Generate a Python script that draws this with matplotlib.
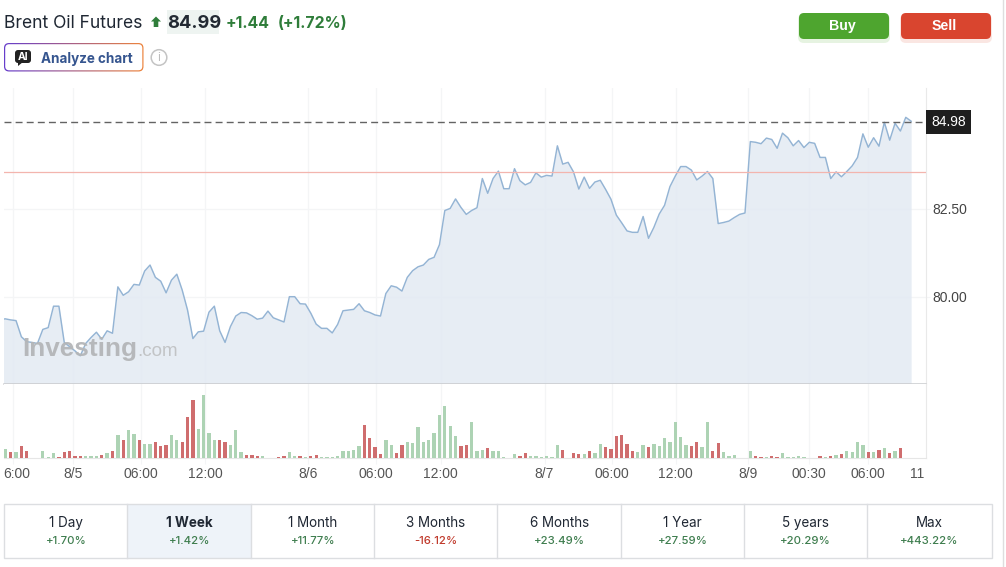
import numpy as np
import matplotlib
matplotlib.use("Agg")
import matplotlib.pyplot as plt
from matplotlib.patches import FancyBboxPatch, Rectangle, Circle, Polygon

# ---------- data ----------
prices = [79.35,
 79.37,79.34,79.32,78.86,78.72,78.70,78.67,79.07,79.12,79.73,79.73,78.70,78.58,78.46,78.32,78.67,
 78.84,78.99,78.79,79.03,78.96,80.28,80.04,80.14,80.35,80.33,80.73,80.90,80.55,80.44,80.11,80.47,
 80.64,80.19,79.62,78.81,79.00,79.02,79.56,79.73,79.03,78.70,79.15,79.45,79.55,79.54,79.46,79.36,
 79.39,79.59,79.40,79.34,79.28,80.00,80.00,79.80,79.79,79.53,79.22,79.10,79.10,78.97,
 79.21,79.60,79.62,79.64,79.80,79.60,79.55,79.48,79.45,80.09,80.31,80.27,80.16,80.55,80.74,80.85,
 80.90,81.06,81.12,81.48,82.45,82.51,82.78,82.54,82.34,82.45,82.53,83.36,82.94,83.36,83.57,83.07,
 83.07,83.64,83.30,83.18,83.25,83.52,83.40,83.45,83.43,84.29,83.77,83.82,83.55,83.06,83.40,83.08,
 83.26,83.31,83.05,82.77,82.32,82.10,81.87,81.83,81.83,82.28,81.66,81.97,82.35,82.60,83.13,
 83.43,83.70,83.70,83.60,83.32,83.43,83.56,83.36,82.08,82.11,82.15,82.25,82.34,82.38,84.41,84.39,
 84.35,84.51,84.47,84.22,84.65,84.52,84.29,84.44,84.24,84.39,84.36,83.96,83.96,83.36,83.55,83.41,
 83.56,83.72,83.96,84.63,84.25,84.52,84.28,84.96,84.45,84.93,84.71,85.10,84.99]

volumes = [27,19,18,36,22,0,0,22,3,15,3,19,22,6,6,6,6,6,9,15,22,69,53,83,72,53,42,42,49,36,39,69,53,49,
 123,174,87,188,76,53,54,49,39,83,19,9,9,6,6,1,1,3,6,18,6,6,3,6,9,3,2,2,5,
 22,22,25,36,99,59,33,12,55,39,15,39,49,45,93,49,53,76,129,157,96,66,36,39,107,22,25,29,22,22,2,0,
 12,6,15,5,5,3,5,3,39,25,1,15,12,12,22,15,42,33,26,66,69,42,22,18,39,33,42,36,59,49,
 109,62,39,36,49,32,109,22,45,18,6,9,0,0,22,6,3,2,6,3,15,3,3,5,3,0,0,6,3,6,9,12,22,18,49,39,18,18,25,29,15,22,29,1]

down_bars = {1,3,4,10,11,12,13,14,18,20,22,25,28,29,30,33,34,35,40,41,45,46,47,51,52,55,57,58,
 67,68,69,70,73,74,85,86,90,96,97,104,106,107,109,112,113,114,115,116,117,120,
 128,129,132,133,140,141,143,144,152,154,156,161,163,165,167}

x_tick_index = [1.4,12.7,25.3,37.3,56.5,69.2,81.2,100.6,113.1,125.1,138.6,150.0,161.0]
x_tick_labels = ["","8/5","06:00","12:00","8/6","06:00","12:00","8/7","06:00","12:00","8/9","00:30","06:00"]
y_ticks = [80.0, 82.5]
last_price = 84.98
ref_price = 83.54

tab_names = ["1 Day","1 Week","1 Month","3 Months","6 Months","1 Year","5 years","Max"]
tab_changes = ["+1.70%","+1.42%","+11.77%","-16.12%","+23.49%","+27.59%","+20.29%","+443.22%"]

# ---------- layout ----------
W, H = 1006, 567
fig = plt.figure(figsize=(W/100, H/100), dpi=100, facecolor="white")
def axpx(l, t, r, b, **kw):
    return fig.add_axes([l/W, 1-b/H, (r-l)/W, (b-t)/H], **kw)

SANS = ["Liberation Sans", "DejaVu Sans"]
UI = ["Inter", "DejaVu Sans"]
GRID = "#f4f5f6"

L, R = 4, 925.7
ax = axpx(L, 88, R, 384.3)
av = axpx(L, 384.3, R, 458)
k_lim = ((L-5.3)/5.36, (R-5.3)/5.36)

xs = np.arange(-1, len(prices)-1)
ax.fill_between(xs, prices, 70, color="#e3eaf3", alpha=0.85, lw=0, zorder=2)
ax.plot(xs, prices, color="#94b4d4", lw=1.05, zorder=3, solid_joinstyle="round")
ax.axhline(ref_price, color="#f3b5ae", lw=0.9, zorder=4)
ax.axhline(last_price, color="#636363", lw=1.0, ls=(0, (5, 3)), zorder=4)
ax.set_xlim(*k_lim)
ax.set_ylim(77.509, 85.934)
ax.set_xticks(x_tick_index); ax.set_xticklabels([])
ax.set_yticks(y_ticks); ax.set_yticklabels(["%.2f" % v for v in y_ticks], fontsize=10, color="#444444", family=SANS)
ax.yaxis.tick_right()
ax.tick_params(axis="x", length=0)
ax.tick_params(axis="y", length=3, color=GRID, pad=1.7)
ax.grid(True, color=GRID, lw=0.9, zorder=1); ax.set_axisbelow(True)
for s in ["top", "left"]:
    ax.spines[s].set_visible(False)
ax.spines["right"].set_color("#e9e9e9"); ax.spines["bottom"].set_color("#c9cbce")
ax.spines["bottom"].set_linewidth(1.1)

ax.text(1.0062, last_price, "%.2f" % last_price, transform=ax.get_yaxis_transform(), color="white",
        fontsize=10, family=SANS, va="center", ha="left", zorder=6,
        bbox=dict(boxstyle="square,pad=0.36", fc="#1e1e1e", ec="none"), clip_on=False)

bar_x = np.arange(len(volumes))
bar_c = ["#cf6d6e" if i in down_bars else "#add3b4" for i in bar_x]
av.bar(bar_x, volumes, width=0.62, color=bar_c, lw=0, zorder=3)
av.set_xlim(*k_lim); av.set_ylim(0, 221)
av.set_yticks([])
av.set_xticks(x_tick_index)
av.set_xticklabels(x_tick_labels, fontsize=10, color="#555555", family=SANS)
av.tick_params(axis="x", length=4, color=GRID, pad=2.2)
av.grid(True, axis="x", color=GRID, lw=0.9, zorder=1); av.set_axisbelow(True)
for s in ["top", "left"]:
    av.spines[s].set_visible(False)
av.spines["right"].set_color("#e9e9e9"); av.spines["bottom"].set_color("#e6e6e6")

# ---------- page furniture (pixel coordinates) ----------
ui = fig.add_axes([0, 0, 1, 1], facecolor="none", zorder=10)
ui.set_xlim(0, W); ui.set_ylim(H, 0); ui.axis("off")

ui.text(22, 349, "Investing", fontsize=18.8, fontweight="bold", family=SANS, color="#b4b6b8",
        va="center", ha="left", alpha=.95)
ui.text(137.5, 351, ".com", fontsize=13.6, family=SANS, color="#c2c4c6", va="center", ha="left")

ui.text(3.5, 474.5, "6:00", fontsize=10, color="#555555", family=SANS, ha="left", va="center")
ui.text(917, 474.5, "11", fontsize=10, color="#555555", family=SANS, ha="center", va="center")
ui.plot([1002.7, 1002.7], [0, H], color="#dedede", lw=1)

# header
ui.text(4, 23, "Brent Oil Futures", fontsize=12.6, family=UI, color="#1f2733", va="center")
ui.add_patch(Polygon([(151,21.5),(156,16.5),(161,21.5),(158.3,21.5),(158.3,27),(153.7,27),(153.7,21.5)],
                     closed=True, fc="#2f7d3a", ec="none"))
ui.add_patch(Rectangle((167, 10), 52, 24, fc="#eef4f1", ec="none"))
ui.text(167, 23, "84.99", fontsize=13.1, fontweight="bold", family=UI, color="#232a33", va="center")
ui.text(226, 23, "+1.44", fontsize=11.4, fontweight="bold", family=UI, color="#2f7d3a", va="center")
ui.text(277.5, 23, "(+1.72%)", fontsize=11.4, fontweight="bold", family=UI, color="#2f7d3a", va="center")

# analyze button with gradient border
grad = np.linspace(0, 1, 256)[None, :, None]
c0, c1 = np.array([0.40, 0.24, 0.80]), np.array([0.93, 0.52, 0.24])
img = ui.imshow(c0 + (c1 - c0) * grad, extent=(4, 144, 72, 43), aspect="auto", zorder=1)
img.set_clip_path(FancyBboxPatch((4, 43), 139.5, 28.5, boxstyle="round,pad=0,rounding_size=5",
                                 transform=ui.transData))
ui.set_xlim(0, W); ui.set_ylim(H, 0)
ui.add_patch(FancyBboxPatch((5.2, 44.2), 137.1, 26.1, boxstyle="round,pad=0,rounding_size=4", fc="white",
                            ec="none", zorder=2))
ui.add_patch(FancyBboxPatch((15, 50), 16, 13, boxstyle="round,pad=0,rounding_size=3", fc="#222222", ec="none", zorder=3))
ui.add_patch(Polygon([(18, 62), (23, 62), (18, 66)], closed=True, fc="#222222", ec="none", zorder=3))
ui.text(23, 56.7, "AI", fontsize=7.5, fontweight="bold", family=UI, color="white", ha="center", va="center", zorder=4)
ui.text(41, 58.5, "Analyze chart", fontsize=9.7, fontweight="bold", family=UI, color="#35558f", va="center", zorder=4)
ui.add_patch(Circle((159, 57.5), 7.8, fc="white", ec="#c4c4c4", lw=1.1))
ui.text(159, 57.8, "i", fontsize=8.5, family=UI, color="#bdbdbd", ha="center", va="center")

# buy / sell
for x0, col, sh, lab, cx in [(799, "#4ea52f", "#dcefd5", "Buy", 842), (901, "#d9452f", "#f9dcd6", "Sell", 944)]:
    ui.add_patch(FancyBboxPatch((x0-1, 14), 92, 29, boxstyle="round,pad=0,rounding_size=6", fc=sh, ec="none", alpha=.7))
    ui.add_patch(FancyBboxPatch((x0, 13), 90, 26, boxstyle="round,pad=0,rounding_size=5", fc=col, ec="none"))
    ui.text(cx, 26, lab, fontsize=10.2, fontweight="bold", family=SANS, color="white", ha="center", va="center")

# period tabs
edges = [4.5, 127.3, 251.5, 374.3, 497.3, 621.3, 744.3, 867.3, 991.7]
top, bot = 503.7, 558.3
ui.add_patch(Rectangle((edges[1], top), edges[2]-edges[1], bot-top, fc="#eef3f9", ec="none"))
ui.add_patch(Rectangle((edges[0], top), edges[-1]-edges[0], bot-top, fc="none", ec="#dcdee1", lw=1))
for e in edges[1:-1]:
    ui.plot([e, e], [top, bot], color="#dcdee1", lw=1)
for i, (n, c) in enumerate(zip(tab_names, tab_changes)):
    cx = (edges[i] + edges[i+1]) / 2
    ui.text(cx, 522.8, n, fontsize=9.7, family=UI, color="#1f2733", ha="center", va="center",
            fontweight="bold" if n == "1 Week" else "normal")
    ui.text(cx, 540.5, c, fontsize=8.2, family=UI, fontweight="medium", ha="center", va="center",
            color="#c0392b" if c.startswith("-") else "#3e7d4e")

fig.savefig("out.png", dpi=100)
